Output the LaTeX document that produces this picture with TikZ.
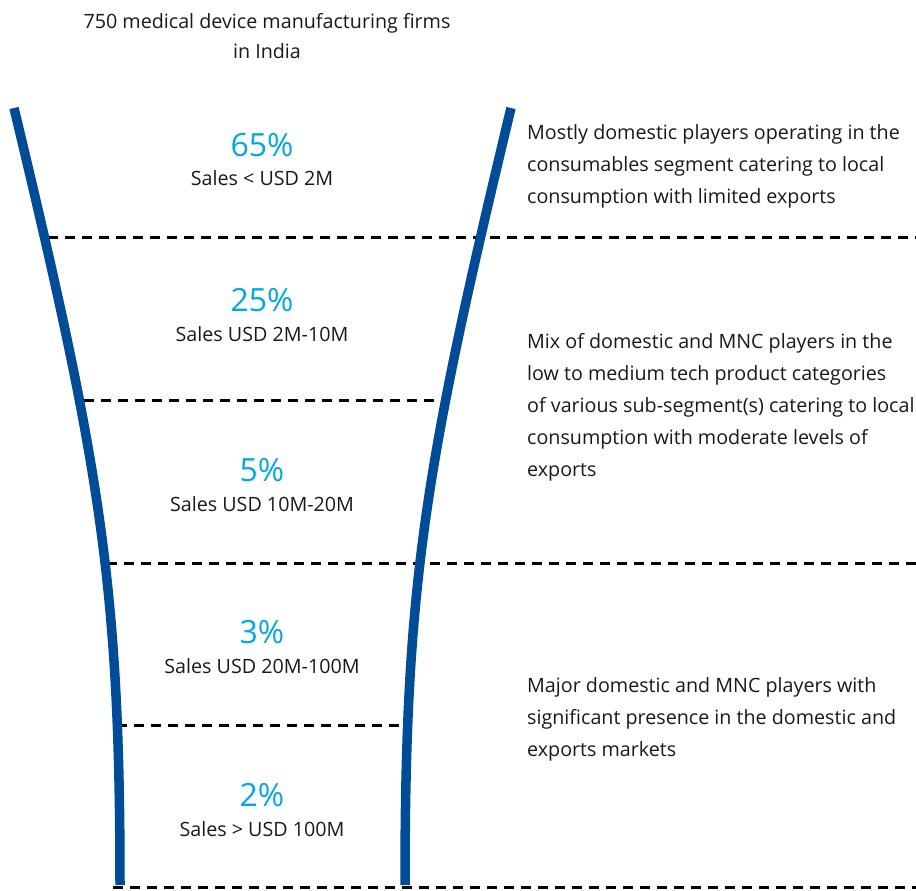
\documentclass[tikz,border=0pt]{standalone}
\usepackage{fontspec}
\setmainfont{Open Sans}
\definecolor{funnelblue}{RGB}{0,76,151}
\definecolor{pctblue}{RGB}{0,169,224}
\definecolor{txtgrey}{RGB}{25,25,25}
\begin{document}
\begin{tikzpicture}[x=1pt,y=-1pt,
  wall/.style={line width=9.5pt,draw=funnelblue,line cap=butt},
  divider/.style={line width=3pt,draw=black,dash pattern=on 10pt off 7pt},
  pct/.style={font=\fontsize{32}{36}\selectfont,text=pctblue,inner sep=0pt,anchor=base},
  band/.style={font=\fontsize{19.7}{24}\selectfont,text=txtgrey,inner sep=0pt,anchor=base},
  note/.style={font=\fontsize{19.7}{32}\selectfont,text=txtgrey,inner sep=0pt,anchor=north west,align=left}]
\useasboundingbox (0,0) rectangle (916,891);

% band dividers (drawn first so the walls sit on top of their ends)
\coordinate (d1a) at (48,237);  \coordinate (d1b) at (916,237);
\coordinate (d2a) at (84,400);  \coordinate (d2b) at (441,400);
\coordinate (d3a) at (107,563); \coordinate (d3b) at (916,563);
\coordinate (d4a) at (117,725); \coordinate (d4b) at (408,725);
\coordinate (d5a) at (113,887); \coordinate (d5b) at (916,887);
\draw[divider] (d1a) -- (d1b);
\draw[divider] (d2a) -- (d2b);
\draw[divider] (d3a) -- (d3b);
\draw[divider] (d4a) -- (d4b);
\draw[divider] (d5a) -- (d5b);

% funnel walls, mirrored about x = 262.5
\coordinate (lt) at (14,108);  \coordinate (lb) at (120,885);
\coordinate (rt) at (511,108); \coordinate (rb) at (405,885);
\draw[wall] (lt) .. controls (100.4,468) and (120,585) .. (lb);
\draw[wall] (rt) .. controls (424.6,468) and (405,585) .. (rb);

% heading
\node[band] (title1) at (267,29) {750 medical device manufacturing firms};
\node[band] (title2) at (267,59) {in India};

% shares per sales band
\node[pct]  (p1) at (262,156) {65\%};
\node[band] (s1) at (262,185) {Sales < USD 2M};
\node[pct]  (p2) at (262,311) {25\%};
\node[band] (s2) at (262,341) {Sales USD 2M-10M};
\node[pct]  (p3) at (262,481) {5\%};
\node[band] (s3) at (262,511) {Sales USD 10M-20M};
\node[pct]  (p4) at (262,643) {3\%};
\node[band] (s4) at (262,673) {Sales USD 20M-100M};
\node[pct]  (p5) at (262,806) {2\%};
\node[band] (s5) at (262,836) {Sales > USD 100M};

% descriptions
\node[note] (n1) at (527,124) {Mostly domestic players operating in the\\consumables segment catering to local\\consumption with limited exports};
\node[note] (n2) at (527,333) {Mix of domestic and MNC players in the\\low to medium tech product categories\\of various sub-segment(s) catering to local\\consumption with moderate levels of\\exports};
\node[note] (n3) at (527,677) {Major domestic and MNC players with\\significant presence in the domestic and\\exports markets};
\end{tikzpicture}
\end{document}
